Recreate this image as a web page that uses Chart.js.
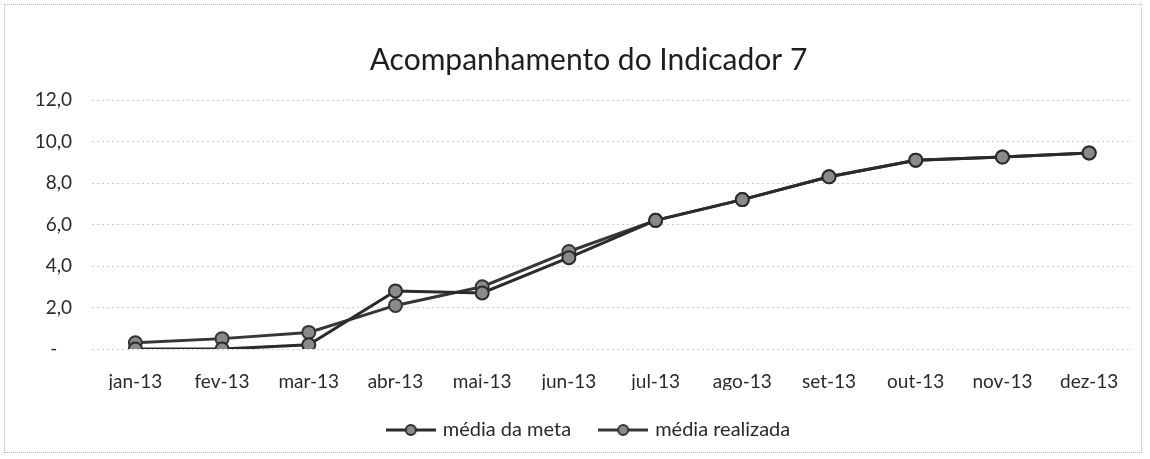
<!DOCTYPE html>
<html>
<head>
<meta charset="utf-8">
<script src="https://cdn.jsdelivr.net/npm/chart.js@4.4.1/dist/chart.umd.min.js"></script>
<style>
  html, body { margin: 0; padding: 0; background: #fff; }
  #wrap { position: absolute; left: 4px; top: 4px; width: 1138px; height: 449px; border: 1px dotted #b8b8b8; box-sizing: border-box; }
  canvas { display: block; }
</style>
</head>
<body>
<div id="wrap"><canvas id="c" width="1136" height="447"></canvas></div>
<script>
const categories = ['jan-13','fev-13','mar-13','abr-13','mai-13','jun-13','jul-13','ago-13','set-13','out-13','nov-13','dez-13'];
const mediaMeta = [0.0, 0.0, 0.2, 2.8, 2.7, 4.4, 6.2, 7.2, 8.3, 9.1, 9.25, 9.45];
const mediaRealizada = [0.3, 0.5, 0.8, 2.1, 3.0, 4.7, 6.2, 7.2, 8.3, 9.1, 9.25, 9.45];
const yTicks = [0, 2, 4, 6, 8, 10, 12];
const titleText = 'Acompanhamento do Indicador 7';
const seriesNames = ['média da meta', 'média realizada'];

const FONT = 'Lato, "Open Sans", sans-serif';

function legendIcon(color) {
  const cv = document.createElement('canvas');
  cv.width = 50; cv.height = 14;
  const g = cv.getContext('2d');
  g.strokeStyle = color; g.lineWidth = 3;
  g.beginPath(); g.moveTo(0, 7); g.lineTo(50, 7); g.stroke();
  g.fillStyle = '#8a8a8a'; g.lineWidth = 2;
  g.beginPath(); g.arc(25, 7, 5, 0, Math.PI * 2); g.fill(); g.stroke();
  return cv;
}

const colors = ['#2b2b2b', '#363636'];

const shiftBoxes = {
  id: 'shiftBoxes',
  afterLayout(chart) {
    if (chart.legend) { chart.legend.left += 15; chart.legend.right += 15; }
    if (chart.titleBlock) { chart.titleBlock.left += 14; chart.titleBlock.right += 14; }
  }
};

new Chart(document.getElementById('c'), {
  type: 'line',
  plugins: [shiftBoxes],
  data: {
    labels: categories,
    datasets: [
      { label: seriesNames[0], data: mediaMeta, borderColor: colors[0], backgroundColor: '#8a8a8a', borderWidth: 3,
        pointRadius: 6.5, pointBorderWidth: 2, pointBorderColor: colors[0], pointBackgroundColor: '#8a8a8a', tension: 0 },
      { label: seriesNames[1], data: mediaRealizada, borderColor: colors[1], backgroundColor: '#8a8a8a', borderWidth: 3,
        pointRadius: 6.5, pointBorderWidth: 2, pointBorderColor: colors[1], pointBackgroundColor: '#8a8a8a', tension: 0 }
    ]
  },
  options: {
    responsive: false,
    animation: false,
    layout: { padding: { left: 10, right: 7, top: 10, bottom: 2 } },
    plugins: {
      title: { display: true, text: titleText, color: '#1e1e1e', font: { family: FONT, size: 30, weight: 'normal' }, padding: { top: 27, bottom: 22 } },
      legend: {
        position: 'bottom',
        labels: {
          usePointStyle: true,
          pointStyleWidth: 44,
          color: '#2a2a2a',
          font: { family: FONT, size: 20 },
          padding: 30,
          generateLabels: (chart) => chart.data.datasets.map((ds, i) => ({
            text: ds.label, fillStyle: ds.borderColor, strokeStyle: ds.borderColor,
            pointStyle: legendIcon(colors[i]), datasetIndex: i, hidden: false, fontColor: '#2a2a2a'
          }))
        }
      },
      tooltip: { enabled: false }
    },
    scales: {
      x: {
        offset: true,
        grid: { display: false },
        border: { display: false },
        afterFit: (s) => { s.height = 41; },
        ticks: { color: '#2a2a2a', font: { family: FONT, size: 19 }, padding: 13, maxRotation: 0 }
      },
      y: {
        min: 0, max: 12,
        afterBuildTicks: (s) => { s.ticks = yTicks.map(v => ({ value: v })); },
        afterFit: (s) => { s.width = 77; },
        grid: { color: '#cfcfcf', lineWidth: 1, drawTicks: false },
        border: { display: false, dash: [2, 3] },
        ticks: {
          color: '#2a2a2a', font: { family: FONT, size: 19 }, padding: 20,
          callback: (v) => v === 0 ? '-   ' : v.toFixed(1).replace('.', ',')
        }
      }
    }
  }
});
</script>
</body>
</html>
